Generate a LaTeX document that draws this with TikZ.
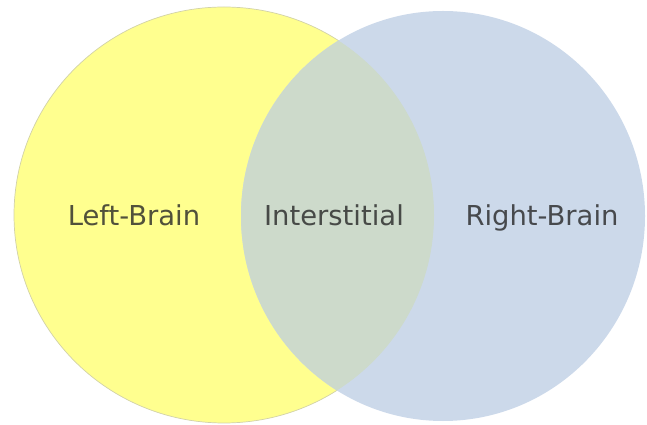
\documentclass[tikz,border=0pt]{standalone}
\usepackage{fontspec}
\setsansfont{DejaVu Sans}
\definecolor{leftfill}{HTML}{FFFF8F}
\definecolor{rightfill}{HTML}{CCD9EA}
\definecolor{bothfill}{HTML}{CDDACB}
\definecolor{rimgray}{HTML}{D2D2A8}
\tikzset{
  brainlabel/.style={font=\sffamily\fontsize{15.6}{18}\selectfont, text=black!85, text opacity=0.8, inner sep=0pt, anchor=base}
}

\begin{document}
\begin{tikzpicture}
   \useasboundingbox (0, 0) rectangle (12.94cm, -8.5cm);

   % the two halves
   \draw [fill=leftfill, draw=rimgray, line width=0.4pt] (4.48cm, -4.30cm) ellipse (4.20cm and 4.16cm);
   \fill [rightfill] (8.86cm, -4.32cm) ellipse (4.04cm and 4.10cm);

   % overlap
   \begin{scope}
      \clip (4.48cm, -4.30cm) ellipse (4.20cm and 4.16cm);
      \fill [bothfill] (8.86cm, -4.32cm) ellipse (4.04cm and 4.10cm);
   \end{scope}

   \node [brainlabel] (leftbrain) at (2.68cm, -4.52cm) {Left-Brain};
   \node [brainlabel] (interstitial) at (6.68cm, -4.52cm) {Interstitial};
   \node [brainlabel] (rightbrain) at (10.84cm, -4.52cm) {Right-Brain};

\end{tikzpicture}
\end{document}
